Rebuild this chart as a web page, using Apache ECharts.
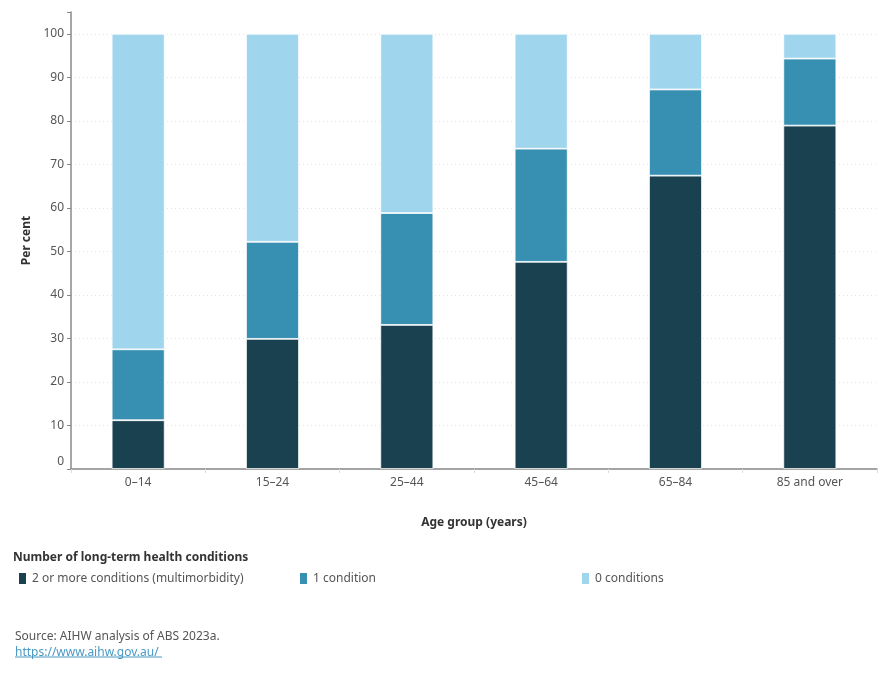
<!DOCTYPE html>
<html>
<head>
<meta charset="utf-8">
<script src="https://cdn.jsdelivr.net/npm/echarts@6/dist/echarts.min.js"></script>
<style>
    html, body { margin: 0; padding: 0; background: #fff; }
    #main { width: 890px; height: 700px; }
</style>
</head>
<body>
<div id="main"></div>
<script>
var ageGroups = ['0\u201314', '15\u201324', '25\u201344', '45\u201364', '65\u201384', '85 and over'];
var twoOrMore = [11.2, 29.9, 33.1, 47.6, 67.4, 78.9];
var oneCondition = [16.3, 22.3, 25.7, 26.0, 19.8, 15.4];
var zeroConditions = [72.5, 47.8, 41.2, 26.4, 12.8, 5.7];
var seriesNames = ['2 or more conditions (multimorbidity)', '1 condition', '0 conditions'];
var seriesColors = ['#1a4150', '#3790b2', '#a0d5ee'];

(function () {
    var chart = echarts.init(document.getElementById('main'));
    var font = "'Noto Sans', sans-serif";
    var allData = [twoOrMore, oneCondition, zeroConditions];

    var series = seriesNames.map(function (name, i) {
        return {
            name: name,
            type: 'bar',
            stack: 'total',
            barWidth: 53,
            itemStyle: {
                color: seriesColors[i],
                borderColor: '#fff',
                borderWidth: 0.8
            },
            data: allData[i]
        };
    });

    var legendLefts = [12, 293, 575];
    var legends = seriesNames.map(function (name, i) {
        return {
            data: [name],
            left: legendLefts[i],
            top: 566,
            itemWidth: 9,
            itemHeight: 13,
            itemGap: 8,
            icon: 'rect',
            selectedMode: false,
            textStyle: { color: '#555', fontSize: 12, fontFamily: font }
        };
    });

    // hide gridline at the 105 tick (top of axis)
    var gridColors = [];
    for (var k = 0; k < 11; k++) gridColors.push('#e4e4e4');
    gridColors.push('rgba(0,0,0,0)');

    var option = {
        backgroundColor: '#fff',
        animation: false,
        title: [
            {
                text: 'Number of long-term health conditions',
                left: 8, top: 547,
                textStyle: { fontSize: 12, fontWeight: 'bold', color: '#333', fontFamily: font }
            },
            {
                text: 'Source: AIHW analysis of ABS 2023a.',
                left: 10, top: 626,
                textStyle: { fontSize: 12, fontWeight: 'normal', color: '#555', fontFamily: font }
            },
            {
                text: 'https://www.aihw.gov.au/',
                left: 10, top: 642,
                textStyle: { fontSize: 12, fontWeight: 'normal', color: '#4a9ac4', fontFamily: font }
            }
        ],
        graphic: [{
            type: 'line',
            shape: { x1: 15, y1: 657, x2: 162, y2: 657 },
            style: { stroke: '#4a9ac4', lineWidth: 1 }
        }],
        legend: legends,
        grid: { left: 71, right: 13, top: 12, bottom: 231 },
        xAxis: {
            type: 'category',
            data: ageGroups,
            name: 'Age group (years)',
            nameLocation: 'middle',
            nameGap: 48,
            nameTextStyle: { fontSize: 12, fontWeight: 'bold', color: '#333', fontFamily: font },
            axisLine: { lineStyle: { color: '#888', width: 1.5 } },
            axisTick: { show: true, length: 4, lineStyle: { color: '#ddd' } },
            axisLabel: { color: '#555', fontSize: 12, margin: 8, fontFamily: font }
        },
        yAxis: {
            type: 'value',
            min: 0,
            max: 105,
            interval: 10,
            name: 'Per cent',
            nameLocation: 'middle',
            nameGap: 34,
            nameRotate: 90,
            nameTextStyle: { fontSize: 12, fontWeight: 'bold', color: '#333', fontFamily: font },
            axisLine: { show: true, lineStyle: { color: '#888', width: 1.5 } },
            axisTick: { show: true, length: 4, lineStyle: { color: '#888' } },
            axisLabel: {
                color: '#555', fontSize: 12, margin: 7, fontFamily: font,
                formatter: function (v) {
                    if (v > 100) return '';
                    if (v === 0) return '{z|0}';
                    return v;
                },
                rich: {
                    z: { color: '#555', fontSize: 12, fontFamily: font, padding: [0, 0, 14, 0] }
                }
            },
            splitLine: { show: true, lineStyle: { type: [1, 3], color: gridColors } }
        },
        series: series
    };
    chart.setOption(option);
})();
</script>
</body>
</html>
